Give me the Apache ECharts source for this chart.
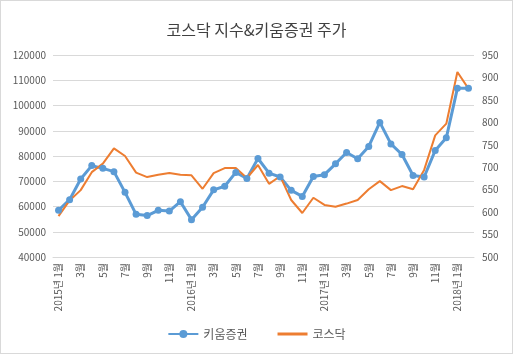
<!DOCTYPE html>
<html>
<head>
    <meta charset="utf-8">
    <title>코스닥 지수&amp;키움증권 주가</title>
    <script src="https://cdn.jsdelivr.net/npm/echarts@6/dist/echarts.min.js"></script>
    <style>
        html, body { margin: 0; padding: 0; background: #fff; }
        #main { width: 511px; height: 352px; border: 1px solid #d9d9d9; }
    </style>
</head>
<body>
<div id="main"></div>
<script type="text/javascript">
    // 월별 카테고리 (2015년 1월 ~ 2018년 2월)
    var months = [
        '2015년 1월', '2월', '3월', '4월', '5월', '6월', '7월', '8월', '9월', '10월', '11월', '12월',
        '2016년 1월', '2월', '3월', '4월', '5월', '6월', '7월', '8월', '9월', '10월', '11월', '12월',
        '2017년 1월', '2월', '3월', '4월', '5월', '6월', '7월', '8월', '9월', '10월', '11월', '12월',
        '2018년 1월', '2월'
    ];

    // 키움증권 주가 (왼쪽 축)
    var kiwoom = [
        58500, 62700, 70900, 76200, 75100, 73800, 65600, 56900, 56400, 58500, 58200, 61900,
        54800, 59700, 66600, 68000, 73500, 71100, 79000, 73200, 71700, 66400, 64000, 71900,
        72600, 76900, 81400, 78900, 83800, 93300, 84800, 80600, 72300, 71700, 82200, 87200,
        106800, 106800
    ];

    // 코스닥 지수 (오른쪽 축)
    var kosdaq = [
        591, 626, 649, 689, 708, 742, 725, 688, 678, 683, 687, 683,
        682, 652, 687, 698, 698, 676, 705, 663, 680, 627, 598, 632,
        616, 612, 619, 627, 651, 669, 649, 658, 651, 694, 771, 797,
        912, 875
    ];

    var myChart = echarts.init(document.getElementById('main'));

    var textColor = '#595959';
    var option = {
        animation: false,
        textStyle: { fontFamily: '"Noto Sans CJK KR", "Noto Sans", sans-serif' },
        title: {
            text: '코스닥 지수&키움증권 주가',
            left: 'center',
            top: 16,
            textStyle: { fontSize: 16, fontWeight: 'normal', color: '#404040',
                fontFamily: '"Noto Sans CJK KR", sans-serif' }
        },
        legend: {
            bottom: 8,
            left: 'center',
            itemWidth: 30,
            itemHeight: 10,
            itemGap: 30,
            textStyle: { color: textColor, fontSize: 12 },
            data: [
                { name: '키움증권' },
                { name: '코스닥', icon: 'path://M0,0 L30,0 L30,3 L0,3 Z' }
            ]
        },
        grid: { left: 52, right: 38, top: 54, bottom: 96 },
        xAxis: {
            type: 'category',
            data: months,
            boundaryGap: true,
            axisLine: { lineStyle: { color: '#d9d9d9' } },
            axisTick: { show: false },
            axisLabel: { interval: 1, rotate: 90, color: textColor, fontSize: 10, margin: 6 }
        },
        yAxis: [{
            type: 'value',
            min: 40000,
            max: 120000,
            interval: 10000,
            axisLine: { show: false },
            axisTick: { show: false },
            axisLabel: { color: textColor, fontSize: 10, margin: 7,
                formatter: function (v) { return String(v); } },
            splitLine: { lineStyle: { color: '#d9d9d9' } }
        }, {
            type: 'value',
            min: 500,
            max: 950,
            interval: 50,
            axisLine: { show: false },
            axisTick: { show: false },
            axisLabel: { color: textColor, fontSize: 10, margin: 8 },
            splitLine: { show: false }
        }],
        series: [{
            name: '키움증권',
            type: 'line',
            yAxisIndex: 0,
            data: kiwoom,
            symbol: 'circle',
            symbolSize: 7,
            lineStyle: { width: 3, color: '#5B9BD5' },
            itemStyle: { color: '#5B9BD5' }
        }, {
            name: '코스닥',
            type: 'line',
            yAxisIndex: 1,
            data: kosdaq,
            showSymbol: false,
            symbol: 'none',
            lineStyle: { width: 2, color: '#ED7D31' },
            itemStyle: { color: '#ED7D31' }
        }]
    };

    myChart.setOption(option);
</script>
</body>
</html>
